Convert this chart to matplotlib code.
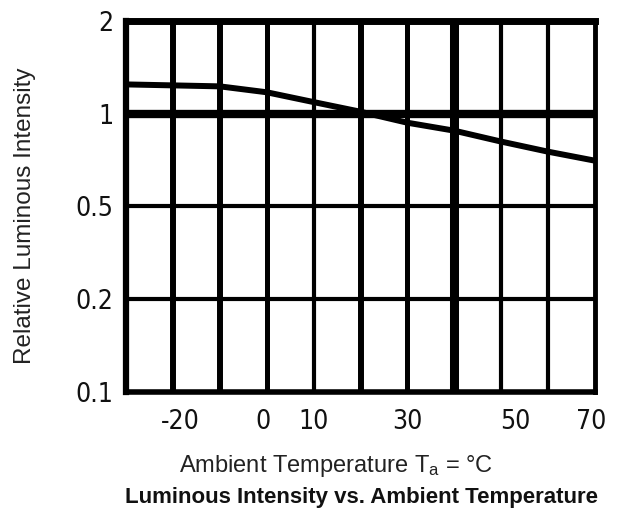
import numpy as np
import matplotlib
matplotlib.use("Agg")
import matplotlib.pyplot as plt
import matplotlib.transforms as mtransforms

# ---- data ----
temperature_c = [-30, -20, -10, 0, 10, 20, 30, 40, 50, 60, 70]
relative_intensity = [1.245, 1.236, 1.227, 1.174, 1.091, 1.015, 0.935, 0.881, 0.812, 0.753, 0.704]

y_ticks = [0.1, 0.2, 0.5, 1, 2]
y_tick_labels = ["0.1", "0.2", "0.5", "1", "2"]
x_ticks = [-20, 0, 10, 30, 50, 70]
x_tick_labels = ["-20", "0", "10", "30", "50", "70"]
x_grid = [-20, -10, 0, 10, 20, 30, 40, 50, 60]
x_range = [-30, 70]

plt.rcParams["font.family"] = ["Liberation Sans", "DejaVu Sans"]
plt.rcParams["mathtext.fontset"] = "custom"
plt.rcParams["mathtext.rm"] = "Liberation Sans"
plt.rcParams["mathtext.it"] = "Liberation Sans"

fig = plt.figure(figsize=(6.25, 5.13), dpi=100)
ax = fig.add_axes([0.2016, 0.2359, 0.7504, 0.7232])

# piecewise-logarithmic y scale with evenly spaced steps
log_ticks = np.log10(y_ticks)
idx = np.arange(len(y_ticks), dtype=float)

def fwd(v):
    v = np.clip(np.asarray(v, dtype=float), 1e-6, None)
    return np.interp(np.log10(v), log_ticks, idx)

def inv(p):
    return 10 ** np.interp(np.asarray(p, dtype=float), idx, log_ticks)

ax.set_yscale("function", functions=(fwd, inv))
ax.set_ylim(y_ticks[0], y_ticks[-1])
ax.set_xlim(*x_range)

# grid lines (widths mimic the original raster)
grid_w = {-20: 4.3, -10: 4.3, 0: 3.6, 10: 3.0, 20: 4.3, 30: 3.6, 40: 6.5, 50: 3.0, 60: 3.0}
for xv in x_grid:
    ax.axvline(xv, color="black", lw=grid_w.get(xv, 3.6), zorder=1)
hgrid_w = {1: 6.0}
for yv in y_ticks[1:-1]:
    ax.axhline(yv, color="black", lw=hgrid_w.get(yv, 3.0), zorder=1)

ax.plot(temperature_c, relative_intensity, color="black", lw=4.3, zorder=3,
        solid_capstyle="butt")

for side, w in {"top": 5.0, "left": 4.5, "right": 3.5, "bottom": 4.0}.items():
    ax.spines[side].set_linewidth(w)
    ax.spines[side].set_color("black")

ax.set_yticks(y_ticks)
ax.set_yticklabels(y_tick_labels)
ax.yaxis.set_minor_locator(matplotlib.ticker.NullLocator())
ax.set_xticks(x_ticks)
ax.set_xticklabels(x_tick_labels)
ax.tick_params(axis="both", length=0)
ax.tick_params(axis="y", pad=9)
ax.tick_params(axis="x", pad=12)
for lab in ax.get_xticklabels() + ax.get_yticklabels():
    lab.set_fontfamily(["DejaVu Sans"])
    lab.set_fontstretch("condensed")
    lab.set_fontsize(19)
    lab.set_color("#111111")

# horizontal nudges of x tick labels (points), as drawn in the original
nudge_pt = {"-20": 5, "50": 10, "70": -3, "0": -3}
for lab in ax.get_xticklabels():
    dx = nudge_pt.get(lab.get_text(), 0)
    if dx:
        lab.set_transform(lab.get_transform() +
                          mtransforms.ScaledTranslation(dx / 72, 0, fig.dpi_scale_trans))

fig.text(0.040, 0.58, "Relative Luminous Intensity", rotation=90,
         ha="center", va="center", fontsize=17.5, color="#222222")
fig.text(0.538, 0.092, r"Ambient Temperature T$_\mathregular{a}$ = °C",
         ha="center", va="center", fontsize=17, color="#222222")
fig.text(0.579, 0.031, "Luminous Intensity vs. Ambient Temperature",
         ha="center", va="center", fontsize=16, fontweight="bold", color="#111111")

fig.savefig("out.png", dpi=100)
